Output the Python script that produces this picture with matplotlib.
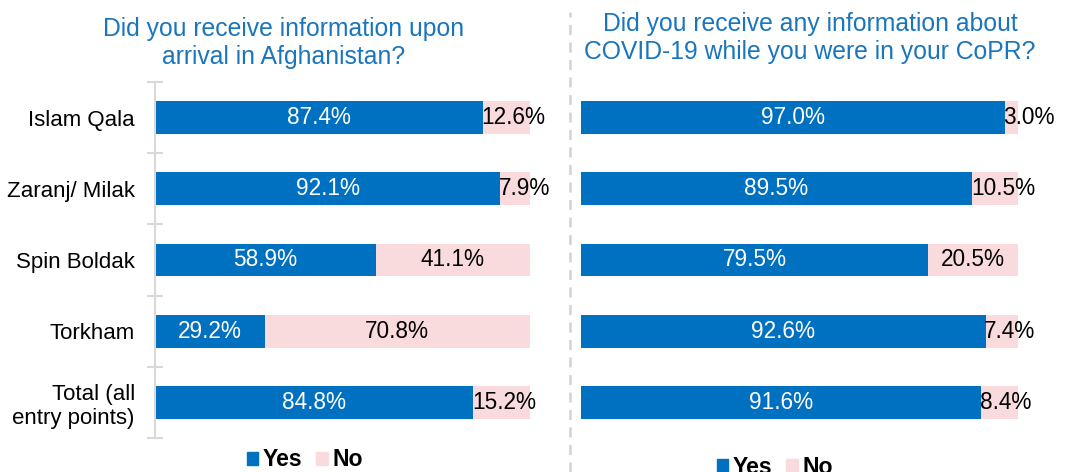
import numpy as np
import matplotlib
matplotlib.use('Agg')
import matplotlib.pyplot as plt
from matplotlib.patches import Patch
from matplotlib.lines import Line2D

plt.rcParams['font.family'] = ['Liberation Sans', 'DejaVu Sans']

categories = ['Islam Qala', 'Zaranj/ Milak', 'Spin Boldak', 'Torkham', 'Total (all\nentry points)']
arrival_yes = [87.4, 92.1, 58.9, 29.2, 84.8]
arrival_no = [12.6, 7.9, 41.1, 70.8, 15.2]
copr_yes = [97.0, 89.5, 79.5, 92.6, 91.6]
copr_no = [3.0, 10.5, 20.5, 7.4, 8.4]

title_left = 'Did you receive information upon\narrival in Afghanistan?'
title_right = 'Did you receive any information about\nCOVID-19 while you were in your CoPR?'

c_yes = '#0070C0'
c_no = '#FADBDD'
c_title = '#1976BE'
fs_val = 16.3
fs_cat = 16
fs_title = 17.8
fs_leg = 16.6

fig = plt.figure(figsize=(10.7, 4.72), dpi=100)
W, H = 1070, 472

def px_axes(x0, x1, y0, y1):
    return fig.add_axes([x0 / W, 1 - y1 / H, (x1 - x0) / W, (y1 - y0) / H])

def draw(ax, yes, no, show_labels):
    y = np.arange(len(categories))
    ax.barh(y, yes, height=0.46, color=c_yes)
    ax.barh(y, no, left=yes, height=0.46, color=c_no)
    for i in range(len(y)):
        ax.text(yes[i] / 2, y[i], f'{yes[i]:.1f}%', ha='center', va='center',
                color='white', fontsize=fs_val)
        if no[i] < 16:
            ax.text(yes[i] - 0.3, y[i], f'{no[i]:.1f}%', ha='left', va='center',
                    color='black', fontsize=fs_val)
        else:
            ax.text(yes[i] + no[i] / 2, y[i], f'{no[i]:.1f}%', ha='center',
                    va='center', color='black', fontsize=fs_val)
    ax.set_xlim(0, 100)
    ax.set_ylim(len(y) - 0.5, -0.5)
    ax.set_xticks([])
    for s in ['top', 'right', 'bottom']:
        ax.spines[s].set_visible(False)
    if show_labels:
        ax.spines['left'].set_color('#D9D9D9')
        ax.spines['left'].set_linewidth(1.5)
        ax.set_yticks(y)
        ax.set_yticklabels(categories, fontsize=fs_cat)
        ax.tick_params(axis='y', which='major', length=0, pad=14.5)
        ax.set_yticks(np.arange(-0.5, len(y)), minor=True)
        ax.tick_params(axis='y', which='minor', direction='inout', length=11,
                       width=1.5, color='#D9D9D9')
    else:
        ax.spines['left'].set_visible(False)
        ax.set_yticks([])
    ax.patch.set_alpha(0)

ax1 = px_axes(155, 530, 82, 438)
draw(ax1, arrival_yes, arrival_no, True)
ax2 = px_axes(581, 1018, 82, 438)
draw(ax2, copr_yes, copr_no, False)

fig.text(284 / W, 1 - 43 / H, title_left, ha='center', va='center', color=c_title,
         fontsize=fs_title, linespacing=1.25)
fig.text(810 / W, 1 - 38 / H, title_right, ha='center', va='center', color=c_title,
         fontsize=fs_title, linespacing=1.25)

fig.add_artist(Line2D([570 / W, 570 / W], [0, 1 - 12 / H], color='#D3D3D3',
                      linestyle=(0, (4, 3)), linewidth=1.8))

handles = [Patch(color=c_yes, label='Yes'), Patch(color=c_no, label='No')]
for cx, cy in [(305, 460), (775, 467)]:
    fig.legend(handles=handles, loc='center', bbox_to_anchor=(cx / W, 1 - cy / H),
               ncol=2, frameon=False, handlelength=0.5, handleheight=0.5,
               handletextpad=0.2, columnspacing=0.6,
               prop={'weight': 'bold', 'size': fs_leg})

fig.savefig('out.png', dpi=100)
